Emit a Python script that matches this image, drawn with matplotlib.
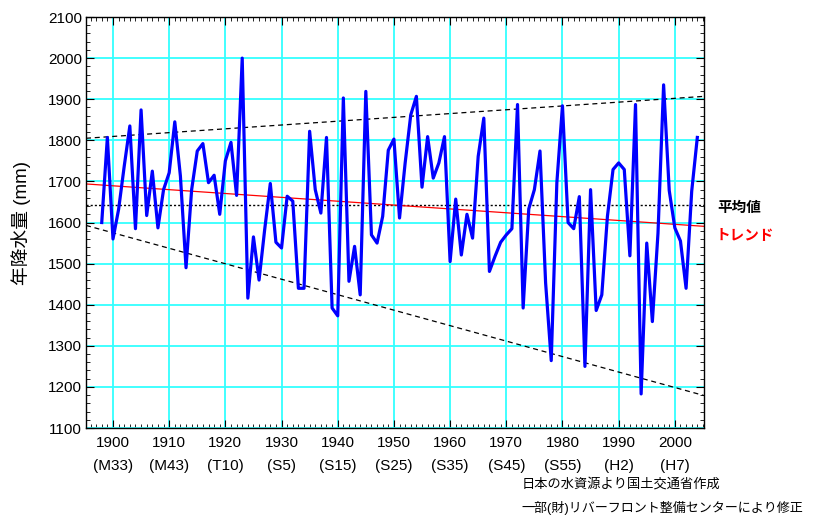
import numpy as np
import matplotlib
matplotlib.use("Agg")
import matplotlib.pyplot as plt
from matplotlib.ticker import MultipleLocator

plt.rcParams['font.family'] = ['Liberation Sans', 'Noto Sans CJK JP']

# === Data: annual precipitation in Japan (mm), 1898-2004 ===
years = np.arange(1898, 2005)
rain = [
    1600, 1807, 1560, 1632, 1737, 1835, 1585, 1874, 1617, 1725,   # 1898-1907
    1587, 1680, 1721, 1845, 1713, 1490, 1680, 1774, 1792, 1697,   # 1908-1917
    1715, 1620, 1750, 1795, 1666, 2000, 1416, 1565, 1460, 1583,   # 1918-1927
    1695, 1552, 1538, 1664, 1652, 1440, 1440, 1822, 1680, 1623,   # 1928-1937
    1807, 1392, 1373, 1903, 1457, 1542, 1424, 1919, 1570, 1550,   # 1938-1947
    1615, 1776, 1803, 1611, 1745, 1862, 1907, 1686, 1809, 1708,   # 1948-1957
    1745, 1809, 1505, 1657, 1521, 1620, 1562, 1761, 1854, 1481,   # 1958-1967
    1518, 1552, 1570, 1585, 1887, 1392, 1633, 1680, 1774, 1453,   # 1968-1977
    1264, 1697, 1884, 1600, 1585, 1663, 1250, 1680, 1386, 1424,   # 1978-1987
    1615, 1729, 1745, 1729, 1519, 1887, 1183, 1550, 1359, 1574,   # 1988-1997
    1935, 1678, 1587, 1555, 1440, 1676, 1807,                     # 1998-2004
]

# dashed envelope lines (values at the axis edges)
env_years = [1895.2, 2005.2]
upper_env = [1805, 1907]
lower_env = [1593, 1179]

tick_years = list(range(1900, 2001, 10))
era_labels = ['(M33)', '(M43)', '(T10)', '(S5)', '(S15)', '(S25)',
              '(S35)', '(S45)', '(S55)', '(H2)', '(H7)']

mean_val = np.mean(rain)
slope, icpt = np.polyfit(years, rain, 1)

fig = plt.figure(figsize=(8.13, 5.16), dpi=100)
ax = fig.add_axes([0.1058, 0.1705, 0.7602, 0.7965])

ax.set_xlim(env_years)
ax.set_ylim(1100, 2100)

# grid
ax.xaxis.set_major_locator(MultipleLocator(10))
ax.xaxis.set_minor_locator(MultipleLocator(1))
ax.yaxis.set_major_locator(MultipleLocator(100))
ax.yaxis.set_minor_locator(MultipleLocator(20))
ax.grid(True, which='major', color='#33ffff', linewidth=1.3)
ax.set_axisbelow(True)

# envelope, mean, trend
ax.plot(env_years, upper_env, color='black', linestyle=(0, (4, 3)), linewidth=0.9)
ax.plot(env_years, lower_env, color='black', linestyle=(0, (4, 3)), linewidth=0.9)
ax.axhline(mean_val, color='black', linestyle=(0, (1.5, 1.5)), linewidth=1.0)
xx = np.array(env_years)
ax.plot(xx, slope * xx + icpt, color='red', linewidth=0.9)

# data line
ax.plot(years, rain, color='#0000ff', linewidth=2.3, zorder=5)

ax.set_xticks(tick_years)
ax.set_xticklabels([f"{y}\n{e}" for y, e in zip(tick_years, era_labels)],
                   linespacing=1.75)
ax.tick_params(which='both', direction='in', top=True, right=True)
ax.tick_params(which='major', length=6, labelsize=11, pad=6)
ax.tick_params(which='minor', length=3)
ax.tick_params(axis='y', pad=3)
for s in ax.spines.values():
    s.set_linewidth(1.0)

ax.set_ylabel('年降水量 (mm)', fontsize=13.5, labelpad=12)

# right side labels
fig.text(0.882, 0.597, '平均値', fontsize=10.5, fontweight='bold', color='black',
         va='center', ha='left')
fig.text(0.880, 0.543, 'トレンド', fontsize=10.5, fontweight='bold', color='red',
         va='center', ha='left')

# source notes
fig.text(0.642, 0.062, '日本の水資源より国土交通省作成', fontsize=9.5, va='center')
fig.text(0.642, 0.016, '一部(財)リバーフロント整備センターにより修正', fontsize=9.4,
         va='center')

fig.savefig('out.png', dpi=100)
